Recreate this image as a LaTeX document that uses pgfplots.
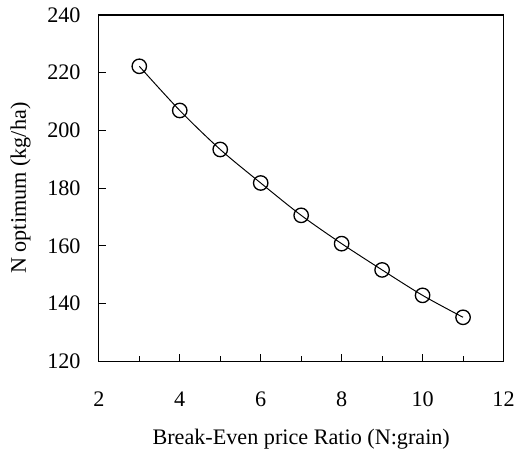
\documentclass[border=0pt]{standalone}
\usepackage{fontspec}
\setmainfont{Liberation Serif}
\usepackage{pgfplots}
\pgfplotsset{compat=1.18}
\begin{document}
\fontsize{12.6}{15}\selectfont
\begin{tikzpicture}
\begin{axis}[
	scale only axis,
	width=230pt,
	height=197pt,
	xmin=2, xmax=12,
	ymin=120, ymax=240,
	xtick={2,4,...,12},
	minor xtick={3,5,...,11},
	ytick={120,140,...,240},
	tick pos=left,
	tick align=inside,
	major tick length=4pt,
	minor tick length=3pt,
	axis line style={line width=0.75pt},
	every tick/.style={black, line width=0.6pt},
	/pgf/number format/assume math mode=true,
	xticklabel style={yshift=-13pt},
	yticklabel style={xshift=-6pt},
	xlabel={Break-Even price Ratio (N:grain)},
	ylabel={N optimum (kg/ha)},
	xlabel style={yshift=-4pt},
	ylabel style={yshift=-1pt, inner xsep=0pt, inner ysep=6pt},
]
% optimum N vs price ratio
\addplot[black, line width=0.55pt, smooth, mark=o, mark size=4.1pt,
	mark options={fill=white, line width=0.75pt}] coordinates {
	(3,222.2) (4,206.9) (5,193.4) (6,181.8) (7,170.6)
	(8,160.8) (9,151.7) (10,142.9) (11,135.3)
};
\end{axis}
\end{tikzpicture}
\end{document}
